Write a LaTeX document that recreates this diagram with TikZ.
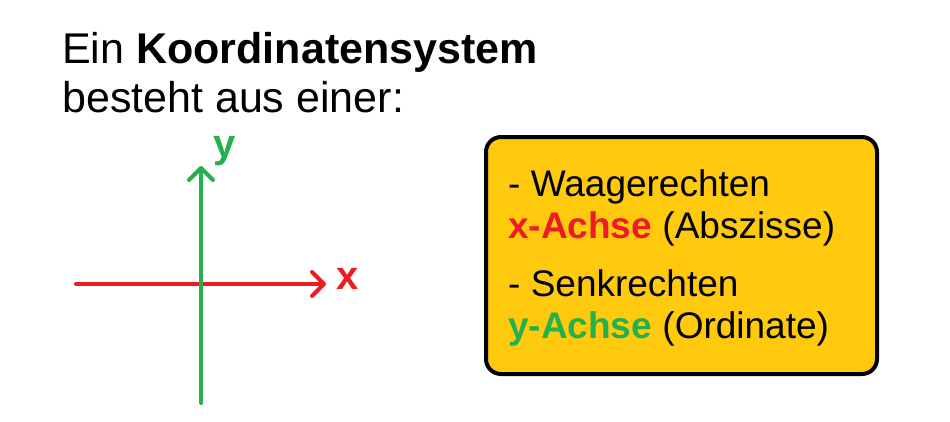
\documentclass[tikz,border=0pt]{standalone}
\usepackage{fontspec}
\setmainfont{Liberation Sans}
\usetikzlibrary{arrows.meta}

\definecolor{axisred}{HTML}{ED1C24}
\definecolor{axisgreen}{HTML}{22B14C}
\definecolor{boxyellow}{HTML}{FFC90E}

\tikzset{
    axis/.style={line width=4pt, line cap=round,
        -{Straight Barb[length=12pt, width=24pt, line width=4pt, round]}},
    headline/.style={anchor=base west, inner sep=0pt, font=\fontsize{43}{50}\selectfont},
    boxline/.style={anchor=base west, inner sep=0pt, font=\fontsize{37}{42}\selectfont},
    axislabel/.style={inner sep=0pt, font=\fontsize{40}{48}\selectfont\bfseries},
    infobox/.style={draw=black, line width=4pt, fill=boxyellow, rounded corners=15pt}
}

\begin{document}
\begin{tikzpicture}[x=1pt, y=-1pt]

    \useasboundingbox (0,0) rectangle (950,421);

    % heading
    \node[headline] (title1) at (62,63) {Ein \textbf{Koordinatensystem}};
    \node[headline] (title2) at (62,112) {besteht aus einer:};

    % axes
    \coordinate (x_start) at (76,284);
    \coordinate (x_end) at (326,284);
    \coordinate (y_start) at (201,403);
    \coordinate (y_end) at (201,166);

    \draw[axis, axisred] (x_start) -- (x_end);
    \draw[axis, axisgreen] (y_start) -- (y_end);

    \node[axislabel, text=axisred] (x_lab) at (348,279) {x};
    \node[axislabel, text=axisgreen] (y_lab) at (225,151) {y};

    % info box
    \node[infobox, minimum width=391pt, minimum height=237pt] (box) at (681.5,255.5) {};

    \node[boxline] (line1) at (508,196) {- Waagerechten};
    \node[boxline] (line2) at (508,238) {\textcolor{axisred}{\textbf{x-Achse}} (Abszisse)};
    \node[boxline] (line3) at (508,296) {- Senkrechten};
    \node[boxline] (line4) at (508,338) {\textcolor{axisgreen}{\textbf{y-Achse}} (Ordinate)};

\end{tikzpicture}
\end{document}
